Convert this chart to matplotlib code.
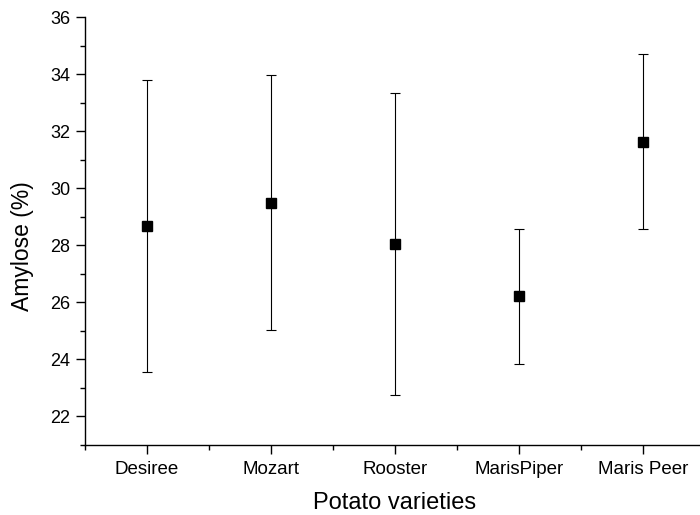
import matplotlib
matplotlib.use('Agg')
import matplotlib.pyplot as plt
from matplotlib.ticker import MultipleLocator, FixedLocator

plt.rcParams['font.family'] = ['Liberation Sans', 'DejaVu Sans']

# amylose content per variety (mean +/- error)
varieties = ['Desiree', 'Mozart', 'Rooster', 'MarisPiper', 'Maris Peer']
amylose_mean = [28.67, 29.49, 28.05, 26.21, 31.63]
amylose_err = [5.11, 4.47, 5.29, 2.36, 3.06]

fig = plt.figure(figsize=(7, 5.15), dpi=100, facecolor='w')
ax = fig.add_axes([85 / 700, 70 / 515, 620 / 700, 428 / 515])

x = list(range(1, len(varieties) + 1))
ax.errorbar(x, amylose_mean, yerr=amylose_err, fmt='s', color='black',
            markersize=6.5, ecolor='black', elinewidth=0.8, capsize=3.6,
            capthick=0.8)

ax.set_xlim(0.5, 5.5)
ax.set_ylim(21, 36)
ax.xaxis.set_major_locator(FixedLocator(x))
ax.set_xticklabels(varieties)
ax.xaxis.set_minor_locator(MultipleLocator(1, offset=0.5))
ax.yaxis.set_major_locator(MultipleLocator(2))
ax.yaxis.set_minor_locator(MultipleLocator(1))

for side in ['top', 'right']:
    ax.spines[side].set_visible(False)
for side in ['left', 'bottom']:
    ax.spines[side].set_linewidth(1.0)

ax.tick_params(which='major', direction='out', length=6.5, width=1.0)
ax.tick_params(which='minor', direction='out', length=3.6, width=1.0)
ax.tick_params(axis='x', which='major', pad=5, labelsize=13.5)
ax.tick_params(axis='y', which='major', pad=4, labelsize=13)

ax.set_ylabel('Amylose (%)', fontsize=16.5)
ax.set_xlabel('Potato varieties', fontsize=17)
ax.yaxis.set_label_coords(-0.1, 0.465)
ax.xaxis.set_label_coords(0.5, -0.135)
ax.xaxis.label.set_va('center')
ax.yaxis.label.set_va('center')

fig.savefig('out.png', dpi=100)
plt.close()
